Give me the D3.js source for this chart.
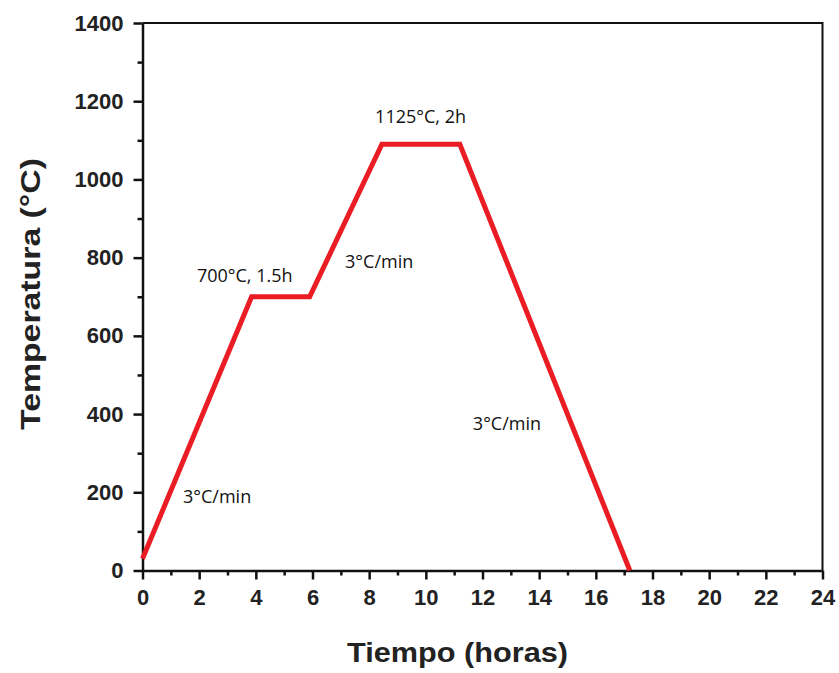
<!DOCTYPE html>
<meta charset="utf-8">
<script src="https://d3js.org/d3.v7.min.js"></script>
<style>
  body { margin: 0; background: #fff; }
  .tick text { font-family: "Liberation Sans", Arial, sans-serif; font-weight: bold; }
</style>
<body>
<div id="my_dataviz"></div>
<script>
// heating profile (time in hours, temperature in °C)
var timeHours = [0, 3.85, 5.9, 8.45, 11.2, 17.2];
var tempC = [30, 700, 700, 1090, 1090, 0];

// tick values
var xTicks = [0, 2, 4, 6, 8, 10, 12, 14, 16, 18, 20, 22, 24];
var yTicks = [0, 200, 400, 600, 800, 1000, 1200, 1400];

// annotations
var noteText = ["700°C, 1.5h", "1125°C, 2h", "3°C/min", "3°C/min", "3°C/min"];
var noteX = [1.92, 8.21, 7.15, 1.43, 11.66];
var noteY = [738, 1145, 774, 173, 360];

var W = 839, H = 673;
var margin = { top: 23, right: 16.5, bottom: 102.5, left: 142.5 },
  width = W - margin.left - margin.right,
  height = H - margin.top - margin.bottom;

var svg = d3.select("#my_dataviz")
  .append("svg")
  .attr("width", W)
  .attr("height", H)
  .append("g")
  .attr("transform", "translate(" + margin.left + "," + margin.top + ")");

var x = d3.scaleLinear().domain([0, 24]).range([0, width]);
var y = d3.scaleLinear().domain([0, 1400]).range([height, 0]);

// frame top + right
svg.append("path")
  .attr("d", "M0,0H" + width + "V" + height)
  .attr("fill", "none")
  .attr("stroke", "#111")
  .attr("stroke-width", 2);

// minor ticks
var xMinor = d3.range(1, 24, 2);
var yMinor = d3.range(100, 1400, 200);
svg.append("g")
  .attr("transform", "translate(0," + height + ")")
  .call(d3.axisBottom(x).tickValues(xMinor).tickSize(5).tickFormat(""))
  .call(g => g.select(".domain").remove())
  .selectAll("line").attr("stroke", "#111").attr("stroke-width", 2.5);
svg.append("g")
  .call(d3.axisLeft(y).tickValues(yMinor).tickSize(5).tickFormat(""))
  .call(g => g.select(".domain").remove())
  .selectAll("line").attr("stroke", "#111").attr("stroke-width", 2.5);

// X axis
var gx = svg.append("g")
  .attr("transform", "translate(0," + height + ")")
  .call(d3.axisBottom(x).tickValues(xTicks).tickFormat(d3.format("d")).tickSize(9).tickSizeOuter(0).tickPadding(10));
gx.select(".domain").attr("stroke", "#111").attr("stroke-width", 2.5);
gx.selectAll("line").attr("stroke", "#111").attr("stroke-width", 2.5);
gx.selectAll("text").style("font-size", "22px").attr("fill", "#222");

// Y axis
var gy = svg.append("g")
  .call(d3.axisLeft(y).tickValues(yTicks).tickFormat(d3.format("d")).tickSize(9).tickSizeOuter(0).tickPadding(10));
gy.select(".domain").attr("stroke", "#111").attr("stroke-width", 2.5);
gy.selectAll("line").attr("stroke", "#111").attr("stroke-width", 2.5);
gy.selectAll("text").style("font-size", "22px").attr("fill", "#222");

// line
var pts = timeHours.map(function (t, i) { return [t, tempC[i]]; });
svg.append("path")
  .datum(pts)
  .attr("fill", "none")
  .attr("stroke", "#ea1c24")
  .attr("stroke-width", 5)
  .attr("stroke-linejoin", "miter")
  .attr("d", d3.line()
    .x(function (d) { return x(d[0]); })
    .y(function (d) { return y(d[1]); }));

// annotations
svg.selectAll(".note")
  .data(noteText)
  .enter()
  .append("text")
  .attr("class", "note")
  .attr("x", function (d, i) { return x(noteX[i]); })
  .attr("y", function (d, i) { return y(noteY[i]); })
  .style("font-family", "'Open Sans', sans-serif")
  .style("font-size", "18px")
  .attr("fill", "#111")
  .text(function (d) { return d; });

// axis titles
svg.append("text")
  .attr("x", 457.5 - margin.left)
  .attr("y", height + 91)
  .attr("text-anchor", "middle")
  .attr("textLength", 221)
  .attr("lengthAdjust", "spacingAndGlyphs")
  .style("font-family", "'Liberation Sans', Arial, sans-serif")
  .style("font-weight", "bold")
  .style("font-size", "28px")
  .attr("fill", "#222")
  .text("Tiempo (horas)");

svg.append("text")
  .attr("transform", "translate(" + (40 - margin.left) + "," + (294 - margin.top) + ") rotate(-90)")
  .attr("text-anchor", "middle")
  .attr("textLength", 272)
  .attr("lengthAdjust", "spacingAndGlyphs")
  .style("font-family", "'Liberation Sans', Arial, sans-serif")
  .style("font-weight", "bold")
  .style("font-size", "28px")
  .attr("fill", "#222")
  .text("Temperatura (°C)");
</script>
</body>
